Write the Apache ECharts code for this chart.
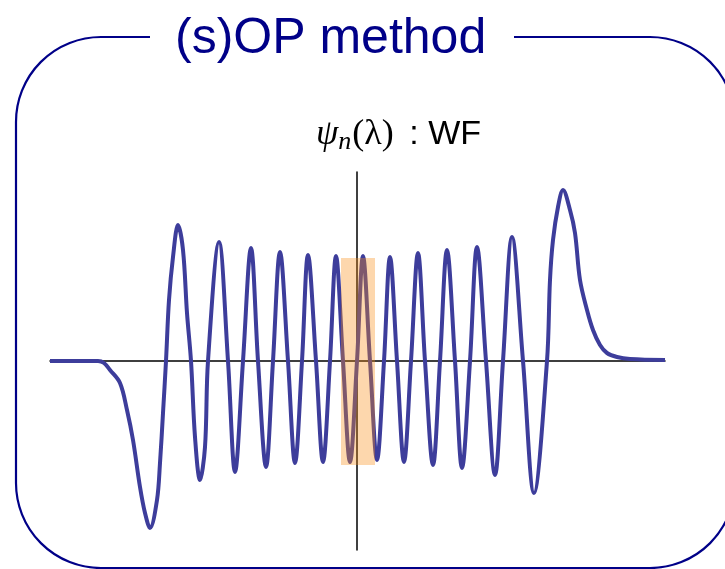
<!DOCTYPE html>
<html>
<head>
<meta charset="utf-8">
<script src="https://cdn.jsdelivr.net/npm/echarts@6/dist/echarts.min.js"></script>
<style>
html,body{margin:0;padding:0;background:#fff;}
#chart{width:725px;height:569px;}
</style>
</head>
<body>
<div id="chart"></div>
<script>
// Wave function psi_n(lambda)
var lambdaValues = [-30.7,-25.9,-25.3,-24.7,-23.7,-23.0,-22.4,-21.7,-21.2,-20.7,-20.0,-19.7,-19.4,-19.1,-18.8,-18.4,-17.9,-17.4,-17.0,-16.6,-16.2,-15.7,-15.2,-14.9,-13.8,-12.9,-12.2,-11.4,-10.6,-9.9,-9.1,-8.4,-7.7,-6.9,-6.2,-5.5,-4.9,-4.1,-3.4,-2.7,-2.1,-1.4,-0.7,0,0.6,1.3,2.0,2.7,3.3,4.0,4.7,5.4,6.1,6.8,7.6,8.3,9.0,9.8,10.5,11.3,12.0,12.9,13.8,14.6,15.5,16.6,17.7,19.0,19.3,19.6,20.1,20.6,21.3,21.8,22.3,23.0,23.6,24.3,25.0,26.0,27.3,30.8];
var psiValues = [0,0,-0.02,-0.09,-0.22,-0.49,-0.79,-1.26,-1.52,-1.67,-1.39,-1.02,-0.52,0,0.61,1.04,1.36,1.11,0.48,0,-0.76,-1.19,-0.86,0,1.19,0,-1.11,0,1.13,0,-1.06,0,1.09,0,-1.02,0,1.06,0,-1.01,0,1.05,0,-1.01,0,1.05,0,-0.99,0,1.04,0,-1.01,0,1.08,0,-1.04,0,1.11,0,-1.07,0,1.14,0,-1.14,0,1.24,0,-1.32,0,0.81,1.21,1.54,1.71,1.51,1.28,0.81,0.51,0.31,0.16,0.08,0.04,0.02,0.01];
// highlighted window (lambda range, psi range)
var windowLambda = [-1.6, 1.8];
var windowPsi = [1.03, -1.04];

var titleText = '(s)OP method';

var seriesData = lambdaValues.map(function(l, i){ return [l, psiValues[i]]; });

var chart = echarts.init(document.getElementById('chart'), null, {renderer:'canvas'});
chart.setOption({
  animation: false,
  backgroundColor: '#fff',
  title: [{
    text: titleText,
    left: 170, top: 9,
    textStyle: {fontFamily: 'Liberation Sans', fontSize: 50, fontWeight: 'normal', color: '#000088'}
  },{
    text: '{psi|ψ}{sub|n}{par|(λ)}{sans| : WF}',
    left: 311, top: 110,
    textStyle: {
      fontWeight: 'normal',
      rich: {
        psi: {fontFamily: 'Liberation Serif', fontStyle: 'italic', fontWeight: 'normal', fontSize: 36, color: '#000'},
        sub: {fontFamily: 'Liberation Serif', fontStyle: 'italic', fontWeight: 'normal', fontSize: 26, color: '#000', padding:[14,1,0,0]},
        par: {fontFamily: 'Liberation Serif', fontWeight: 'normal', fontSize: 36, color: '#000'},
        sans: {fontFamily: 'Liberation Sans', fontWeight: 'normal', fontSize: 34, color: '#000', padding:[0,0,0,6]}
      }
    }
  }],
  graphic: [
    {type:'rect', z: -10, shape:{x:16, y:37, width:719, height:531, r:85}, style:{fill:'none', stroke:'#000088', lineWidth:2.2}},
    {type:'rect', z: -9, shape:{x:150, y:30, width:364, height:14}, style:{fill:'#fff'}}
  ],
  grid: {left: 50, top: 172, width: 615, height: 378, containLabel: false},
  xAxis: {
    type: 'value', min: -30.7, max: 30.8,
    axisLine: {show: true, onZero: true, lineStyle: {color: '#000', width: 1.5}},
    axisTick: {show: false}, axisLabel: {show: false}, splitLine: {show: false}
  },
  yAxis: {
    type: 'value', min: -1.89, max: 1.89,
    axisLine: {show: true, onZero: true, lineStyle: {color: '#000', width: 1.5}},
    axisTick: {show: false}, axisLabel: {show: false}, splitLine: {show: false}
  },
  series: [{
    type: 'line', data: seriesData, z: 2,
    showSymbol: false, smooth: 0.35,
    lineStyle: {color: '#3d3d9b', width: 4}
  },{
    type: 'custom', z: 10, silent: true,
    data: [[windowLambda[0], windowPsi[0], windowLambda[1], windowPsi[1]]],
    renderItem: function(params, api){
      var p1 = api.coord([api.value(0), api.value(1)]);
      var p2 = api.coord([api.value(2), api.value(3)]);
      return {
        type: 'rect',
        shape: {x: p1[0], y: p1[1], width: p2[0]-p1[0], height: p2[1]-p1[1]},
        style: {fill: 'rgba(250,140,20,0.35)'}
      };
    }
  }]
});
</script>
</body>
</html>
